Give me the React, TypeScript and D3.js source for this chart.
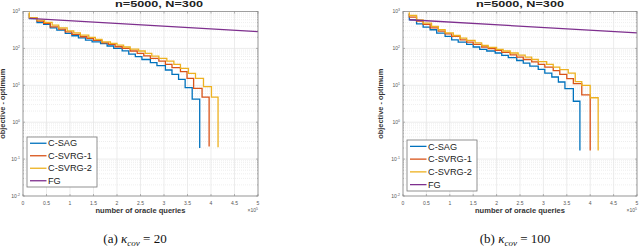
import React from "react";
import * as d3 from "d3";

type Pt = [number, number];

const seriesNames = ["C-SAG", "C-SVRG-1", "C-SVRG-2", "FG"];
const seriesColors = ["#0072BD", "#D95319", "#EDB120", "#7E2F8E"];

const xTickValues = [0, 0.5, 1, 1.5, 2, 2.5, 3, 3.5, 4, 4.5, 5];
const xTickLabels = ["0", "0.5", "1", "1.5", "2", "2.5", "3", "3.5", "4", "4.5", "5"];
const yTickExponents = [-2, -1, 0, 1, 2, 3];

// panel (a) kappa_cov = 20, x in units of 1e5 oracle queries
const sagA: Pt[] = [[0.135, 900], [0.135, 647], [0.298, 504], [0.44, 446], [0.58, 362], [0.72, 313], [0.9, 254], [1.04, 220], [1.18, 194], [1.33, 168], [1.47, 151], [1.65, 134], [1.79, 116], [1.93, 100], [2.11, 86], [2.25, 70], [2.39, 60], [2.53, 50], [2.71, 41], [2.85, 34], [3.03, 26], [3.17, 19.8], [3.31, 14.5], [3.45, 8.6], [3.6, 4.2], [3.76, 0.2]];
const svrg1A: Pt[] = [[0.135, 900], [0.135, 675], [0.298, 548], [0.44, 474], [0.58, 385], [0.76, 333], [0.9, 282], [1.04, 239], [1.22, 207], [1.36, 186], [1.5, 164], [1.68, 142], [1.82, 128], [1.96, 111], [2.11, 100], [2.28, 85], [2.43, 73], [2.57, 63], [2.71, 54], [2.89, 45], [3.03, 37], [3.17, 30], [3.35, 23.4], [3.49, 15.5], [3.63, 8.3], [3.81, 4.8], [3.96, 0.22]];
const svrg2A: Pt[] = [[0.135, 950], [0.135, 675], [0.298, 583], [0.46, 505], [0.62, 427], [0.76, 362], [0.94, 300], [1.08, 265], [1.22, 229], [1.4, 198], [1.54, 175], [1.68, 151], [1.86, 136], [2.0, 123], [2.14, 109], [2.28, 96], [2.46, 85], [2.6, 73], [2.74, 62], [2.89, 54], [3.06, 45], [3.21, 37], [3.35, 28.8], [3.52, 21], [3.67, 15.5], [3.84, 9.2], [4.01, 4.8], [4.15, 0.21]];
const fgA: Pt[] = [[0.135, 650], [5, 285]];

// panel (b) kappa_cov = 100
const sagB: Pt[] = [[0.135, 850], [0.135, 596], [0.29, 464], [0.43, 377], [0.58, 320], [0.72, 259], [0.9, 211], [1.04, 171], [1.18, 148], [1.36, 128], [1.5, 109], [1.64, 94], [1.79, 85], [1.97, 75], [2.11, 65], [2.25, 56], [2.43, 47], [2.57, 40], [2.71, 33], [2.89, 27], [3.03, 21.5], [3.18, 16.8], [3.32, 12.3], [3.46, 8.1], [3.64, 3.7], [3.78, 0.17]];
const svrg1B: Pt[] = [[0.135, 900], [0.135, 703], [0.29, 548], [0.43, 446], [0.58, 362], [0.755, 294], [0.9, 249], [1.04, 211], [1.22, 171], [1.36, 148], [1.5, 128], [1.68, 109], [1.82, 98], [1.97, 88], [2.11, 78], [2.29, 67], [2.43, 58], [2.57, 50], [2.75, 43], [2.89, 37], [3.03, 31], [3.21, 25], [3.35, 19.8], [3.5, 15.1], [3.64, 11.1], [3.82, 5.5], [4.0, 0.17]];
const svrg2B: Pt[] = [[0.135, 950], [0.135, 780], [0.29, 596], [0.43, 484], [0.61, 393], [0.755, 320], [0.9, 265], [1.075, 224], [1.22, 190], [1.36, 164], [1.54, 142], [1.68, 120], [1.82, 106], [2.0, 94], [2.14, 85], [2.29, 75], [2.46, 66], [2.61, 58], [2.75, 50], [2.89, 44], [3.07, 37], [3.21, 31], [3.35, 26.5], [3.53, 21.5], [3.68, 12.6], [3.82, 10], [4.0, 4.6], [4.17, 0.17]];
const fgB: Pt[] = [[0.135, 597], [5, 262]];

const titleText = "n=5000, N=300";
const font = "Liberation Sans, Arial, sans-serif";
const serif = "Liberation Serif, Times New Roman, serif";

type PanelProps = {
  xr: [number, number];
  series: Pt[][];
  titleX: number;
  yLabelX: number;
  legend: { x: number; y: number; w: number; h: number };
  capX: number;
  capLetter: string;
  capValue: string;
};

function Panel({ xr, series, titleX, yLabelX, legend, capX, capLetter, capValue }: PanelProps) {
  const x = d3.scaleLinear().domain([0, 5]).range(xr);
  const y = d3.scaleLog().domain([1e-2, 1e3]).range([196, 11.5]);
  const [x0, x1] = xr;
  const y0 = y(1e-2), y1 = y(1e3);

  const minors: number[] = [];
  yTickExponents.slice(0, -1).forEach((e) => {
    for (let k = 2; k <= 9; k++) minors.push(k * Math.pow(10, e));
  });

  const stepLine = d3.line<Pt>().x((d) => x(d[0])).y((d) => y(d[1])).curve(d3.curveStepAfter);
  const straight = d3.line<Pt>().x((d) => x(d[0])).y((d) => y(d[1]));

  const rowH = legend.h / 4;

  return (
    <g style={{ fontFamily: font }}>
      {/* grid */}
      {minors.map((v, i) => (
        <line key={"m" + i} x1={x0} x2={x1} y1={y(v)} y2={y(v)} stroke="#e2e2e2" strokeWidth={0.6} strokeDasharray="1,1" />
      ))}
      {yTickExponents.map((e) => (
        <line key={"gy" + e} x1={x0} x2={x1} y1={y(Math.pow(10, e))} y2={y(Math.pow(10, e))} stroke="#e4e4e4" strokeWidth={0.7} />
      ))}
      {xTickValues.map((v) => (
        <line key={"gx" + v} x1={x(v)} x2={x(v)} y1={y0} y2={y1} stroke="#e4e4e4" strokeWidth={0.7} />
      ))}

      {/* series */}
      {series.map((s, i) => (
        <path key={"s" + i} d={(i === 3 ? straight(s) : stepLine(s)) || ""} fill="none" stroke={seriesColors[i]} strokeWidth={1.3} />
      ))}

      {/* axes box and ticks */}
      <rect x={x0} y={y1} width={x1 - x0} height={y0 - y1} fill="none" stroke="#8a8a8a" strokeWidth={0.8} />
      {xTickValues.map((v) => (
        <g key={"tx" + v}>
          <line x1={x(v)} x2={x(v)} y1={y0} y2={y0 - 2} stroke="#8a8a8a" strokeWidth={0.6} />
          <line x1={x(v)} x2={x(v)} y1={y1} y2={y1 + 2} stroke="#8a8a8a" strokeWidth={0.6} />
        </g>
      ))}
      {yTickExponents.map((e) => (
        <g key={"ty" + e}>
          <line x1={x0} x2={x0 + 2} y1={y(Math.pow(10, e))} y2={y(Math.pow(10, e))} stroke="#8a8a8a" strokeWidth={0.6} />
          <line x1={x1} x2={x1 - 2} y1={y(Math.pow(10, e))} y2={y(Math.pow(10, e))} stroke="#8a8a8a" strokeWidth={0.6} />
        </g>
      ))}
      {minors.map((v, i) => (
        <g key={"tm" + i}>
          <line x1={x0} x2={x0 + 1} y1={y(v)} y2={y(v)} stroke="#8a8a8a" strokeWidth={0.5} />
          <line x1={x1} x2={x1 - 1} y1={y(v)} y2={y(v)} stroke="#8a8a8a" strokeWidth={0.5} />
        </g>
      ))}

      {/* tick labels */}
      {xTickValues.map((v, i) => (
        <text key={"lx" + v} x={x(v)} y={205} fontSize={5} fill="#555" textAnchor="middle">{xTickLabels[i]}</text>
      ))}
      {yTickExponents.map((e) => (
        <text key={"ly" + e} x={x0 - 3} y={y(Math.pow(10, e)) + 1.5} fontSize={5} fill="#555" textAnchor="end">
          10<tspan fontSize={3.5} dy={-2}>{e}</tspan>
        </text>
      ))}
      <text x={x1} y={211.5} fontSize={5} fill="#555" textAnchor="end">
        ×10<tspan fontSize={3.5} dy={-2}>5</tspan>
      </text>

      {/* titles */}
      <text x={titleX} y={6.8} fontSize={8.5} fontWeight="bold" fill="#222" textAnchor="middle" textLength={88} lengthAdjust="spacingAndGlyphs">{titleText}</text>
      <text x={(x0 + x1) / 2} y={213} fontSize={6.5} fontWeight="bold" fill="#333" textAnchor="middle" textLength={90} lengthAdjust="spacingAndGlyphs">number of oracle queries</text>
      <text transform={`translate(${yLabelX + 2},${(y0 + y1) / 2}) rotate(-90)`} fontSize={6.5} fontWeight="bold" fill="#333" textAnchor="middle" textLength={70} lengthAdjust="spacingAndGlyphs">objective - optimum</text>

      {/* legend */}
      <rect x={legend.x} y={legend.y} width={legend.w} height={legend.h} fill="#fff" stroke="#777" strokeWidth={0.8} />
      {seriesNames.map((n, i) => {
        const cy = legend.y + rowH * (i + 0.5);
        return (
          <g key={"lg" + n}>
            <line x1={legend.x + 3} x2={legend.x + 19.5} y1={cy} y2={cy} stroke={seriesColors[i]} strokeWidth={1.3} />
            <text x={legend.x + 21} y={cy + 3.2} fontSize={9.2} fill="#222">{n}</text>
          </g>
        );
      })}

      {/* caption */}
      <text x={capX} y={243} fontSize={13} style={{ fontFamily: serif }} fill="#111" textAnchor="middle">
        ({capLetter}) <tspan fontStyle="italic">κ</tspan>
        <tspan fontStyle="italic" fontSize={9} dy={2.5}>cov</tspan>
        <tspan dy={-2.5}> = {capValue}</tspan>
      </text>
    </g>
  );
}

export default function App() {
  return (
    <svg width={640} height={247} style={{ position: "absolute", left: 0, top: 0, background: "#fff" }}>
      <Panel
        xr={[23, 258]}
        series={[sagA, svrg1A, svrg2A, fgA]}
        titleX={159}
        yLabelX={3}
        legend={{ x: 27, y: 137, w: 70, h: 50 }}
        capX={135}
        capLetter="a"
        capValue="20"
      />
      <Panel
        xr={[403, 637]}
        series={[sagB, svrg1B, svrg2B, fgB]}
        titleX={520}
        yLabelX={381}
        legend={{ x: 407, y: 140, w: 70, h: 51 }}
        capX={515}
        capLetter="b"
        capValue="100"
      />
    </svg>
  );
}
